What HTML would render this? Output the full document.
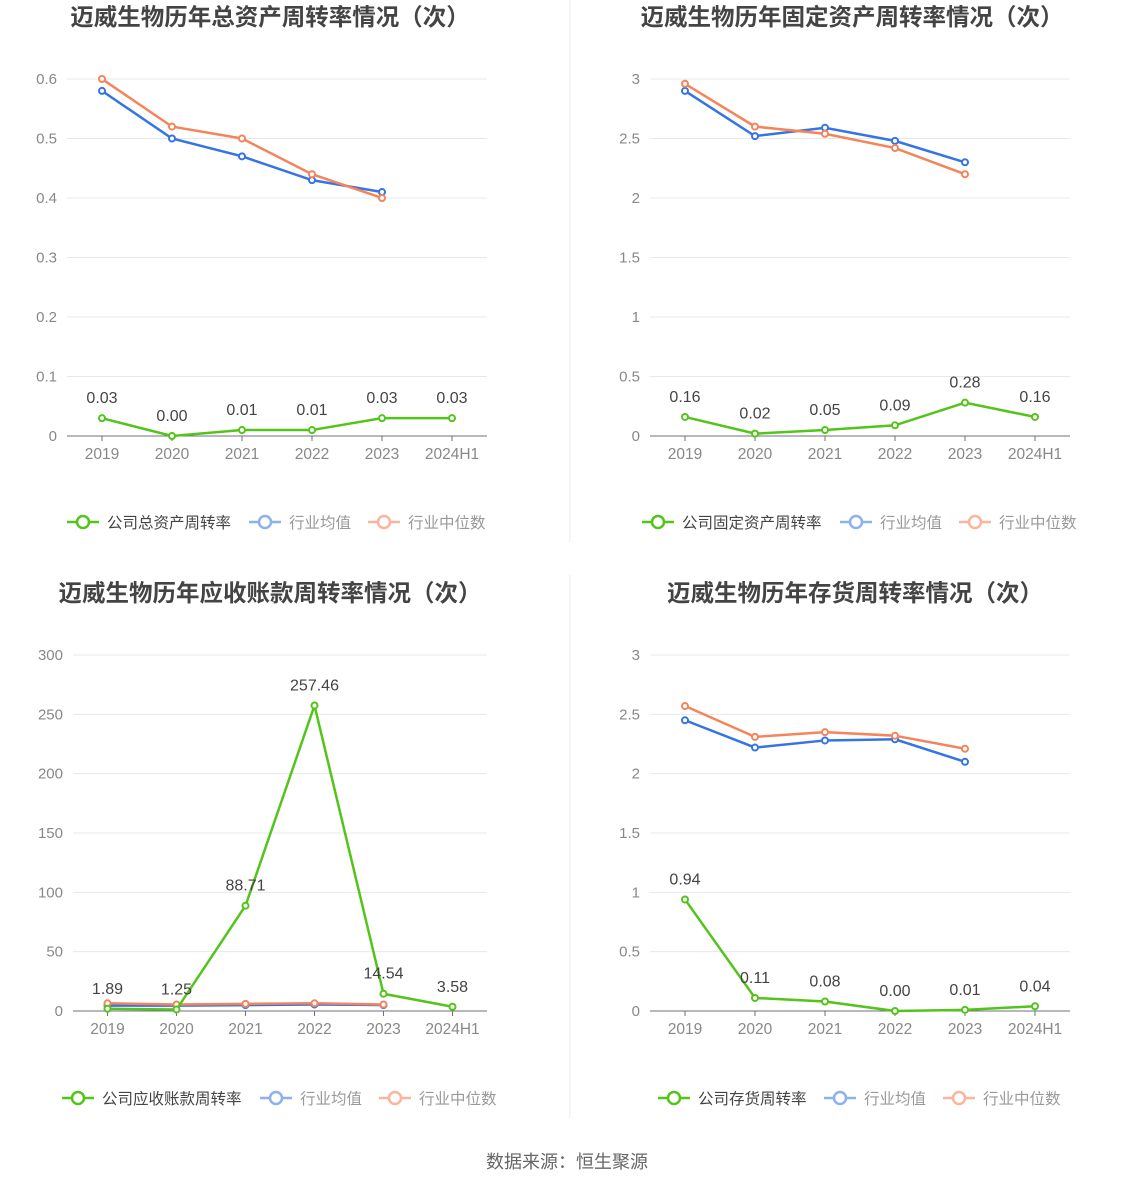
<!DOCTYPE html>
<html><head><meta charset="utf-8">
<style>
body{margin:0;background:#fff;width:1134px;height:1188px;overflow:hidden;font-family:"Liberation Sans","Noto Sans CJK SC",sans-serif;}
svg text{font-family:"Liberation Sans","Noto Sans CJK SC",sans-serif;}
</style></head>
<body>
<svg id="s" width="1134" height="1188" xmlns="http://www.w3.org/2000/svg">
<line x1="570" y1="0" x2="570" y2="542" stroke="#e8e8e8"/>
<line x1="570" y1="575" x2="570" y2="1118" stroke="#e8e8e8"/>
<text x="567" y="1168" text-anchor="middle" font-size="18" fill="#666">数据来源：恒生聚源</text>
</svg>
<script>
const categories=["2019","2020","2021","2022","2023","2024H1"];
const c1Company=[0.03,0.00,0.01,0.01,0.03,0.03];
const c1Avg=[0.58,0.50,0.47,0.43,0.41];
const c1Median=[0.60,0.52,0.50,0.44,0.40];
const c1Ticks=[0,0.1,0.2,0.3,0.4,0.5,0.6];
const c1Labels=["0.03","0.00","0.01","0.01","0.03","0.03"];
const c2Company=[0.16,0.02,0.05,0.09,0.28,0.16];
const c2Avg=[2.90,2.52,2.59,2.48,2.30];
const c2Median=[2.96,2.60,2.54,2.42,2.20];
const c2Ticks=[0,0.5,1,1.5,2,2.5,3];
const c2Labels=["0.16","0.02","0.05","0.09","0.28","0.16"];
const c3Company=[1.89,1.25,88.71,257.46,14.54,3.58];
const c3Avg=[4.5,4.5,5.0,5.5,5.0];
const c3Median=[6.5,5.5,6.0,6.5,5.5];
const c3Ticks=[0,50,100,150,200,250,300];
const c3Labels=["1.89","1.25","88.71","257.46","14.54","3.58"];
const c4Company=[0.94,0.11,0.08,0.00,0.01,0.04];
const c4Avg=[2.45,2.22,2.28,2.29,2.10];
const c4Median=[2.57,2.31,2.35,2.32,2.21];
const c4Ticks=[0,0.5,1,1.5,2,2.5,3];
const c4Labels=["0.94","0.11","0.08","0.00","0.01","0.04"];

const NS="http://www.w3.org/2000/svg";
const svg=document.getElementById('s');
function mk(tag,attrs,parent){const e=document.createElementNS(NS,tag);for(const k in attrs)e.setAttribute(k,attrs[k]);(parent||svg).appendChild(e);return e;}
const GREEN="#52c41a",BLUE="#3574e4",ORANGE="#f5845a";

function chart(o){
  const g=mk('g',{});
  
  
  const max=o.ticks[o.ticks.length-1];
  const y=v=>o.y0-(v/max)*(o.y0-o.yTop);
  const step=(o.x1-o.x0)/categories.length;
  const x=i=>o.x0+step*(i+0.5);
  const t=mk('text',{x:o.tx,y:o.ty,'text-anchor':'middle','font-size':23.5,'font-weight':'bold',fill:'#444'},g);
  t.textContent=o.title;
  
  
  o.ticks.forEach(v=>{
    if(v!==0){const l=mk('line',{x1:o.x0,x2:o.x1,y1:y(v),y2:y(v),stroke:'#e6e8f0'},g);
      
      }
    const tl=mk('text',{x:o.x0-10,y:y(v)+5,'text-anchor':'end','font-size':15,fill:'#888'},g);
    tl.textContent=String(v);
    
    
  });
  const ax=mk('line',{x1:o.x0,x2:o.x1,y1:o.y0,y2:o.y0,stroke:'#6e7079'},g);
  
  
  categories.forEach((c,i)=>{
    mk('line',{x1:x(i),x2:x(i),y1:o.y0,y2:o.y0+5,stroke:'#6e7079'},g);
    const tl=mk('text',{x:x(i),y:o.y0+23,'text-anchor':'middle','font-size':15.5,fill:'#888'},g);
    tl.textContent=c;
    
    
  });
  function series(vals,color,nm){
    const p=mk('polyline',{points:vals.map((v,i)=>x(i)+','+y(v)).join(' '),fill:'none',stroke:color,'stroke-width':2.5},g);
    
    
    vals.forEach((v,i)=>{const c=mk('circle',{cx:x(i),cy:y(v),r:3,fill:'#fff',stroke:color,'stroke-width':2},g);
      
      });
  }
  series(o.avg,BLUE,'industry-average');
  series(o.med,ORANGE,'industry-median');
  series(o.comp,GREEN,'company');
  o.comp.forEach((v,i)=>{
    const tl=mk('text',{x:x(i),y:y(v)-15,'text-anchor':'middle','font-size':16,fill:'#444'},g);
    tl.textContent=o.labels[i];
    
    
  });
  const items=[[o.legend,GREEN,'#444',o.lw],["行业均值","#8fb0f0","#999",63],["行业中位数","#fbb59c","#999",79]];
  let total=0;items.forEach(it=>total+=40+it[3]);total+=16*2;
  let lx=(o.x0+o.x1)/2-total/2;const ly=o.ly;
  items.forEach((it,k)=>{
    const lg=mk('g',{},lg0=g);
    
    
    mk('line',{x1:lx,x2:lx+32,y1:ly,y2:ly,stroke:it[1],'stroke-width':2.5},lg);
    mk('circle',{cx:lx+16,cy:ly,r:6,fill:'#fff',stroke:it[1],'stroke-width':2.5},lg);
    const tt=mk('text',{x:lx+40,y:ly+6,'font-size':15.5,fill:it[2]},lg);
    tt.textContent=it[0];
    lx+=40+it[3]+16;
  });
}
var lg0;
chart({name:'total-asset-turnover-chart',title:'迈威生物历年总资产周转率情况（次）',tx:270,ty:25,x0:67,x1:487,y0:436,yTop:79,ticks:c1Ticks,comp:c1Company,avg:c1Avg,med:c1Median,labels:c1Labels,legend:'公司总资产周转率',lw:126,ly:522});
chart({name:'fixed-asset-turnover-chart',title:'迈威生物历年固定资产周转率情况（次）',tx:852,ty:25,x0:650,x1:1070,y0:436,yTop:79,ticks:c2Ticks,comp:c2Company,avg:c2Avg,med:c2Median,labels:c2Labels,legend:'公司固定资产周转率',lw:142,ly:522});
chart({name:'receivables-turnover-chart',title:'迈威生物历年应收账款周转率情况（次）',tx:270,ty:601,x0:73,x1:487,y0:1011,yTop:655,ticks:c3Ticks,comp:c3Company,avg:c3Avg,med:c3Median,labels:c3Labels,legend:'公司应收账款周转率',lw:142,ly:1098});
chart({name:'inventory-turnover-chart',title:'迈威生物历年存货周转率情况（次）',tx:855,ty:601,x0:650,x1:1070,y0:1011,yTop:655,ticks:c4Ticks,comp:c4Company,avg:c4Avg,med:c4Median,labels:c4Labels,legend:'公司存货周转率',lw:110,ly:1098});
</script>
</body></html>
